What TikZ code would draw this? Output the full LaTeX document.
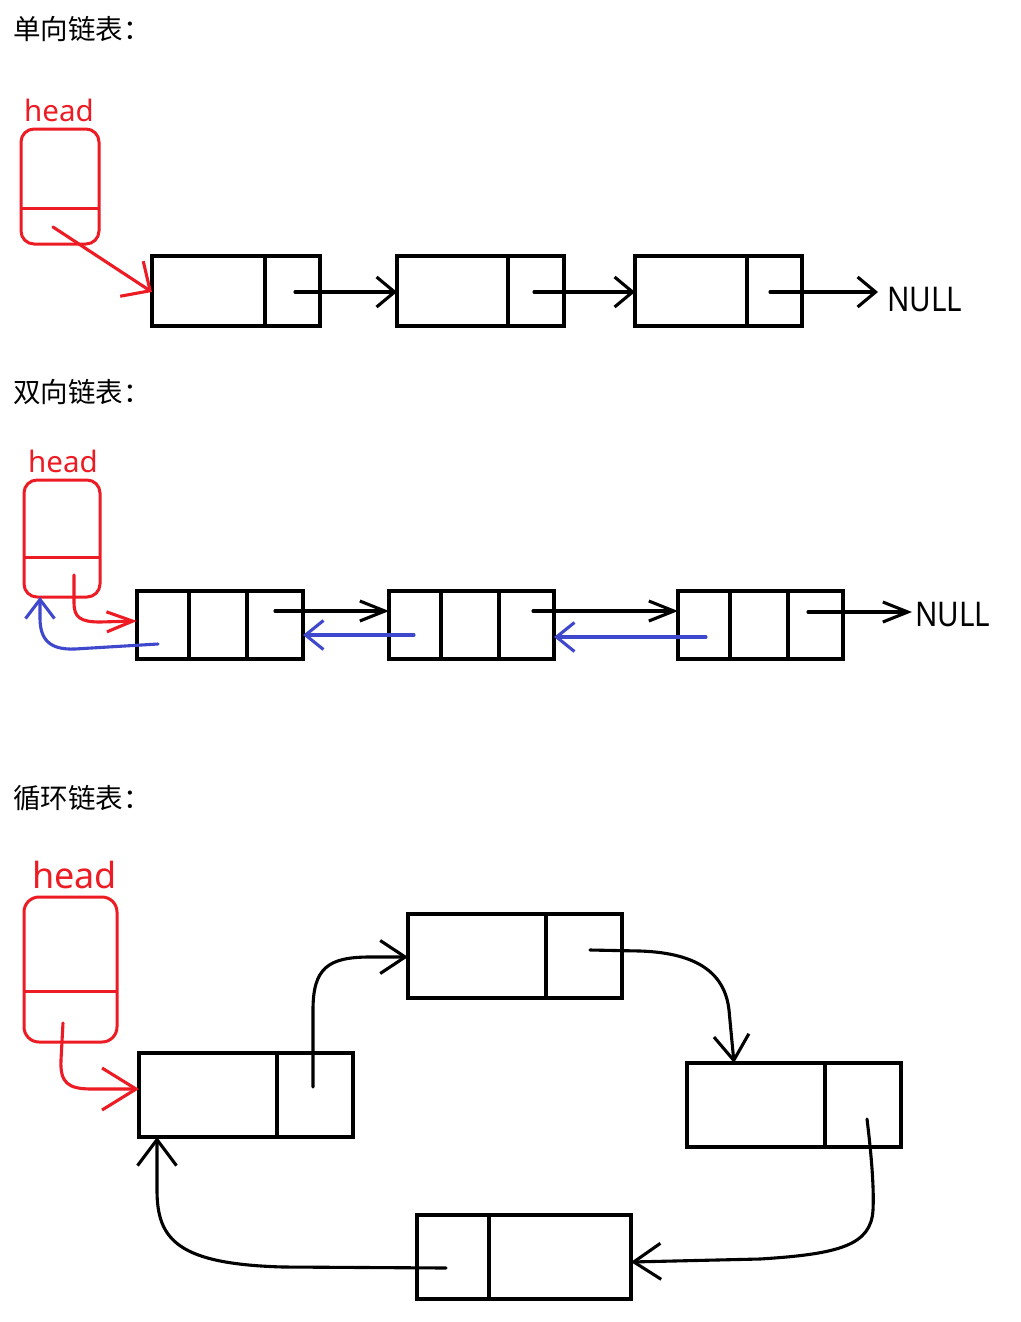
\documentclass[tikz,border=0pt]{standalone}
\usepackage{fontspec}
\usepackage{graphicx}
\setmainfont{Noto Sans}
\newfontfamily\cjk{Noto Sans CJK SC}
\usetikzlibrary{arrows.meta}
\definecolor{pred}{RGB}{237,28,36}
\definecolor{pblue}{RGB}{63,72,204}
\begin{document}
\begin{tikzpicture}[x=1pt,y=-1pt,
  cell/.style={draw, line width=3.2pt, inner sep=0pt, outer sep=0pt, anchor=north west},
  divider/.style={line width=3.2pt},
  headbox/.style={draw=pred, line width=3pt, rounded corners=13pt, inner sep=0pt, outer sep=0pt, anchor=north west},
  title/.style={anchor=west, inner sep=0pt, font=\cjk\fontsize{27.5}{31}\selectfont},
  headtxt/.style={anchor=base west, inner sep=0pt, text=pred},
  nulltxt/.style={anchor=base west, inner sep=0pt, font=\fontsize{34}{40}\selectfont},
  link/.style={line width=3.1pt, line cap=round},
  rlink/.style={link, draw=pred},
  blink/.style={link, draw=pblue},
]
\useasboundingbox[fill=white] (0,0) rectangle (1020,1322);

% ---------------- Section 1 ----------------
\node[title] (t1) at (13,29) {单向链表：};
\node[headtxt, font=\fontsize{29.5}{34}\selectfont] (ht1) at (24,121) {head};
\node[headbox, minimum width=78pt, minimum height=115pt] (h1) at (21,129) {};
\draw[pred, line width=3pt] ([yshift=-79pt]h1.north west) -- ([yshift=-79pt]h1.north east);

\node[cell, minimum width=168pt, minimum height=70pt] (a1) at (152,256) {};
\node[cell, minimum width=167pt, minimum height=70pt] (a2) at (397,256) {};
\node[cell, minimum width=167pt, minimum height=70pt] (a3) at (635,256) {};
\draw[divider] ([xshift=113pt]a1.north west) -- ([xshift=113pt]a1.south west);
\draw[divider] ([xshift=111pt]a2.north west) -- ([xshift=111pt]a2.south west);
\draw[divider] ([xshift=112pt]a3.north west) -- ([xshift=112pt]a3.south west);

\coordinate (h1p) at (53,227);
\draw[rlink, -{Straight Barb[length=22pt,width=42pt]}] (h1p) -- ([yshift=-1pt]a1.west);

\coordinate (a1p) at (295,292);
\coordinate (a2p) at (534,292);
\coordinate (a3p) at (770,292);
\coordinate (e1) at (878,292);
\draw[link, -{Straight Barb[length=18pt,width=30pt]}] (a1p) -- ([yshift=-1pt]a2.west);
\draw[link, -{Straight Barb[length=18pt,width=30pt]}] (a2p) -- ([yshift=-1pt]a3.west);
\draw[link, -{Straight Barb[length=18pt,width=30pt]}] (a3p) -- (e1);
\node[nulltxt] (null1) at (887,311) {\scalebox{0.87}[1]{NULL}};

% ---------------- Section 2 ----------------
\node[title] (t2) at (13,392) {双向链表：};
\node[headtxt, font=\fontsize{29.5}{34}\selectfont] (ht2) at (28,472) {head};
\node[headbox, minimum width=76pt, minimum height=117pt] (h2) at (24,480) {};
\draw[pred, line width=3pt] ([yshift=-77pt]h2.north west) -- ([yshift=-77pt]h2.north east);

\node[cell, minimum width=166pt, minimum height=68pt] (b1) at (137,591) {};
\node[cell, minimum width=165pt, minimum height=68pt] (b2) at (389,591) {};
\node[cell, minimum width=165pt, minimum height=68pt] (b3) at (678,591) {};
\foreach \n in {b1,b2,b3}{
  \draw[divider] ([xshift=52pt]\n.north west) -- ([xshift=52pt]\n.south west);
  \draw[divider] ([xshift=110pt]\n.north west) -- ([xshift=110pt]\n.south west);
}

\coordinate (h2p) at (74,575);
\draw[rlink, -{Straight Barb[length=26pt,width=20pt]}] (h2p) -- (74,603) .. controls (74,617) and (80,622) .. (100,622) -- ([yshift=4pt]b1.west);

\coordinate (b1q) at (158,644);
\coordinate (h2q) at (40,597);
\draw[blink, -{Straight Barb[length=19pt,width=29pt]}] (b1q) -- (75,649) .. controls (50,650) and (40,640) .. (40,618) -- (h2q);

\coordinate (b1p) at (275,611);
\coordinate (b2p) at (533,611);
\coordinate (b3p) at (808,612);
\coordinate (e2) at (912,612);
\draw[link, -{Straight Barb[length=25pt,width=20pt]}] (b1p) -- ([yshift=14pt]b2.west);
\draw[link, -{Straight Barb[length=25pt,width=20pt]}] (b2p) -- ([yshift=14pt]b3.west);
\draw[link, -{Straight Barb[length=25pt,width=20pt]}] (b3p) -- (e2);
\node[nulltxt] (null2) at (915,626) {\scalebox{0.87}[1]{NULL}};

\coordinate (b2q) at (414,635);
\coordinate (b3q) at (706,637);
\draw[blink, -{Straight Barb[length=18pt,width=29pt]}] (b2q) -- ([yshift=-10pt]b1.east);
\draw[blink, -{Straight Barb[length=18pt,width=29pt]}] (b3q) -- ([yshift=-12pt]b2.east);

% ---------------- Section 3 ----------------
\node[title] (t3) at (13,798) {循环链表：};
\node[headtxt, font=\fontsize{36}{40}\selectfont] (ht3) at (32,888) {head};
\node[headbox, rounded corners=15pt, minimum width=93pt, minimum height=145pt] (h3) at (24,897) {};
\draw[pred, line width=3pt] ([yshift=-94pt]h3.north west) -- ([yshift=-94pt]h3.north east);

\node[cell, minimum width=214pt, minimum height=84pt] (cA) at (139,1053) {};
\node[cell, minimum width=214pt, minimum height=84pt] (cB) at (408,914) {};
\node[cell, minimum width=214pt, minimum height=84pt] (cC) at (687,1063) {};
\node[cell, minimum width=214pt, minimum height=84pt] (cD) at (417,1215) {};
\draw[divider] ([xshift=138pt]cA.north west) -- ([xshift=138pt]cA.south west);
\draw[divider] ([xshift=138pt]cB.north west) -- ([xshift=138pt]cB.south west);
\draw[divider] ([xshift=138pt]cC.north west) -- ([xshift=138pt]cC.south west);
\draw[divider] ([xshift=72pt]cD.north west) -- ([xshift=72pt]cD.south west);

\coordinate (h3p) at (63,1023);
\draw[rlink, -{Straight Barb[length=34pt,width=42pt]}] (h3p) -- (61,1060) .. controls (60,1083) and (68,1089) .. (92,1089) -- ([yshift=6pt]cA.west);

\coordinate (cAp) at (313,1087);
\draw[link, -{Straight Barb[length=25pt,width=33pt]}] (cAp) -- (313,1010) .. controls (313,968) and (328,957) .. (370,957) -- ([yshift=-1pt]cB.west);

\coordinate (cBp) at (590,950);
\draw[link, -{Straight Barb[length=25pt,width=35pt]}] (cBp) -- (640,951) .. controls (700,953) and (725,975) .. (729,1010) -- ([xshift=-60pt]cC.north);

\coordinate (cCp) at (867,1119);
\draw[link, -{Straight Barb[length=27pt,width=36pt]}] (cCp) .. controls (872,1160) and (874,1190) .. (873,1210) .. controls (871,1245) and (840,1254) .. (760,1259) -- ([yshift=-5pt]cD.east);

\coordinate (cDp) at (446,1268);
\draw[link, -{Straight Barb[length=26pt,width=39pt]}] (cDp) -- (283,1267) .. controls (178,1264) and (157,1240) .. (157,1190) -- ([xshift=18pt]cA.south west);

\end{tikzpicture}
\end{document}
